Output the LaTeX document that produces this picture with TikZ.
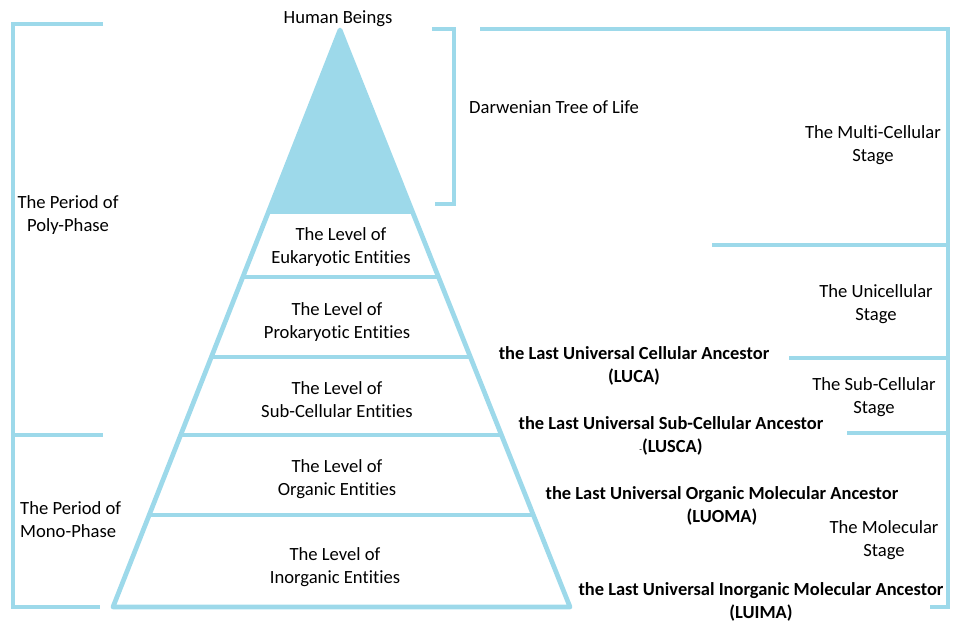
\documentclass[tikz,border=0pt]{standalone}
\usepackage{fontspec}
\setmainfont{Carlito}[Ligatures=NoCommon]
\usepackage{xcolor}
\usetikzlibrary{calc}
\definecolor{skyblue}{RGB}{157,217,234}

\begin{document}
\begin{tikzpicture}[x=0.02cm, y=-0.02cm, line width=2.7pt,
    bar/.style={draw=skyblue},
    lvltext/.style={align=center, yshift=-0.04cm, font=\fontsize{10.6}{13}\selectfont},
    stagetext/.style={align=center, yshift=-0.04cm, font=\fontsize{10.6}{13}\selectfont},
    ancestor/.style={align=center, yshift=-0.04cm, font=\bfseries\fontsize{10.5}{13}\selectfont}]

    \useasboundingbox (0,0) rectangle (955,624);

    % Pyramide
    \coordinate (apex) at (340,30);
    \coordinate (bl) at (113,607);
    \coordinate (br) at (570,607);
    \fill[skyblue] (apex) -- ($(apex)!0.3154!(bl)$) -- ($(apex)!0.3154!(br)$) -- cycle;
    \draw[bar, line join=round] (br) -- (apex) -- (bl) -- cycle;
    \foreach \t in {0.3154, 0.4281, 0.5667, 0.7019, 0.8406}
        \draw[bar] ($(apex)!\t!(bl)$) -- ($(apex)!\t!(br)$);

    % Niveaux
    \node[lvltext] (top) at (338,17) {Human Beings};
    \node[lvltext] (euk) at (341,245) {The Level of\\Eukaryotic Entities};
    \node[lvltext] (pro) at (337,320) {The Level of\\Prokaryotic Entities};
    \node[lvltext] (sub) at (337,398) {The Level of\\Sub-Cellular Entities};
    \node[lvltext] (org) at (337,477) {The Level of\\Organic Entities};
    \node[lvltext] (ino) at (335,565) {The Level of\\Inorganic Entities};

    % Crochet de gauche
    \draw[bar] (103,24) -- (13,24) -- (13,607) -- (100,607);
    \draw[bar] (13,435) -- (103,435);
    \node[stagetext] (poly) at (68,213) {The Period of\\Poly-Phase};
    \node[stagetext, align=left, anchor=west] (mono) at (12,518) {The Period of\\Mono-Phase};

    % Arbre de Darwin
    \draw[bar] (432,29) -- (454,29) -- (454,204) -- (435,204);
    \node[lvltext, anchor=west] (darwin) at (461,105) {Darwenian Tree of Life};

    % Crochet de droite
    \draw[bar] (480,29) -- (948,29) -- (948,607) -- (930,607);
    \foreach \x/\y in {712/245, 789/358, 847/433}
        \draw[bar] (\x,\y) -- (948,\y);
    \node[stagetext] (multi) at (873,143) {The Multi-Cellular\\Stage};
    \node[stagetext] (uni) at (876,302) {The Unicellular\\Stage};
    \node[stagetext] (subc) at (874,395) {The Sub-Cellular\\Stage};
    \node[stagetext] (mol) at (884,538) {The Molecular\\Stage};

    % Ancetres
    \node[ancestor] (luca) at (634,364) {the Last Universal Cellular Ancestor\\(LUCA)};
    \node[ancestor] (lusca) at (671,434) {the Last Universal Sub-Cellular Ancestor\\{\mdseries\tiny-}(LUSCA)};
    \node[ancestor] (luoma) at (722,504) {the Last Universal Organic Molecular Ancestor\\(LUOMA)};
    \node[ancestor] (luima) at (761,600) {the Last Universal Inorganic Molecular Ancestor\\(LUIMA)};

\end{tikzpicture}
\end{document}
